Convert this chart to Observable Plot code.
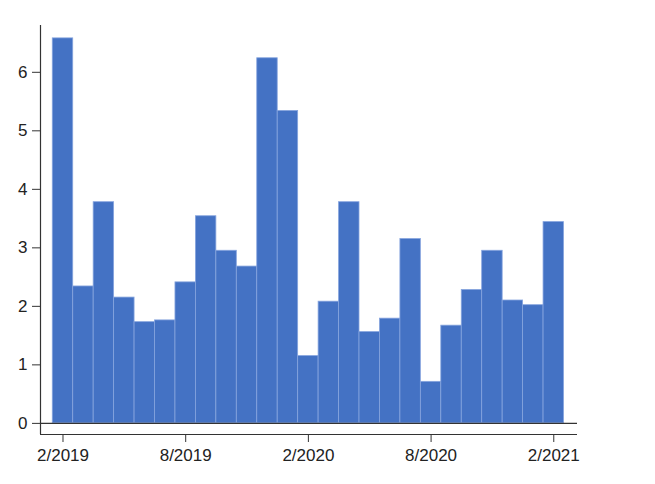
<!DOCTYPE html>
<html><head><meta charset="utf-8">
<script src="https://cdn.jsdelivr.net/npm/d3@7"></script>
<script src="https://cdn.jsdelivr.net/npm/@observablehq/plot@0.6"></script>
<style>body{margin:0;background:#fff}</style>
</head><body><div id="chart"></div>
<script>
const months = ["2019-02","2019-03","2019-04","2019-05","2019-06","2019-07","2019-08","2019-09","2019-10","2019-11","2019-12","2020-01","2020-02","2020-03","2020-04","2020-05","2020-06","2020-07","2020-08","2020-09","2020-10","2020-11","2020-12","2021-01","2021-02"];
const values = [6.58,2.34,3.78,2.15,1.73,1.76,2.41,3.54,2.95,2.68,6.24,5.34,1.15,2.08,3.78,1.56,1.79,3.15,0.71,1.67,2.28,2.95,2.10,2.02,3.44];
const tickMonths = ["2019-02","2019-08","2020-02","2020-08","2021-02"];
const tickLabels = ["2/2019","8/2019","2/2020","8/2020","2/2021"];
const yTicks = [0,1,2,3,4,5,6];

const data = months.map((m, i) => ({m, i, v: values[i]}));
const tickIdx = tickMonths.map(m => months.indexOf(m));
const xDom = [-1.1, 25.16];
const yDom = [-0.19, 6.8];

const chart = Plot.plot({
  width: 655, height: 484,
  marginLeft: 40, marginRight: 78, marginTop: 25, marginBottom: 50,
  style: {fontFamily: "'Liberation Sans', Arial, sans-serif", fontSize: "17px", color: "#222", background: "#fff"},
  x: {domain: xDom},
  y: {domain: yDom},
  marks: [
    Plot.rectY(data, {x1: d => d.i - 0.5, x2: d => d.i + 0.5, y1: 0, y2: "v", fill: "#4472c4", stroke: "#86a4de", strokeWidth: 0.8}),
    Plot.ruleY([0], {stroke: "#333", strokeWidth: 1.2}),
    Plot.ruleX([xDom[0]], {y1: yDom[0], y2: yDom[1], stroke: "#333", strokeWidth: 1.2}),
    Plot.ruleY([yDom[0]], {stroke: "#333", strokeWidth: 1.2}),
    Plot.axisY({ticks: yTicks, tickFormat: d => String(d), tickSize: 8, tickPadding: 5, stroke: "#333", label: null, fontSize: 17}),
    Plot.axisX({ticks: tickIdx, tickFormat: i => tickLabels[tickIdx.indexOf(i)], tickSize: 8, tickPadding: 6, stroke: "#333", label: null, fontSize: 17})
  ]
});
document.getElementById("chart").append(chart);
</script>
</body></html>
